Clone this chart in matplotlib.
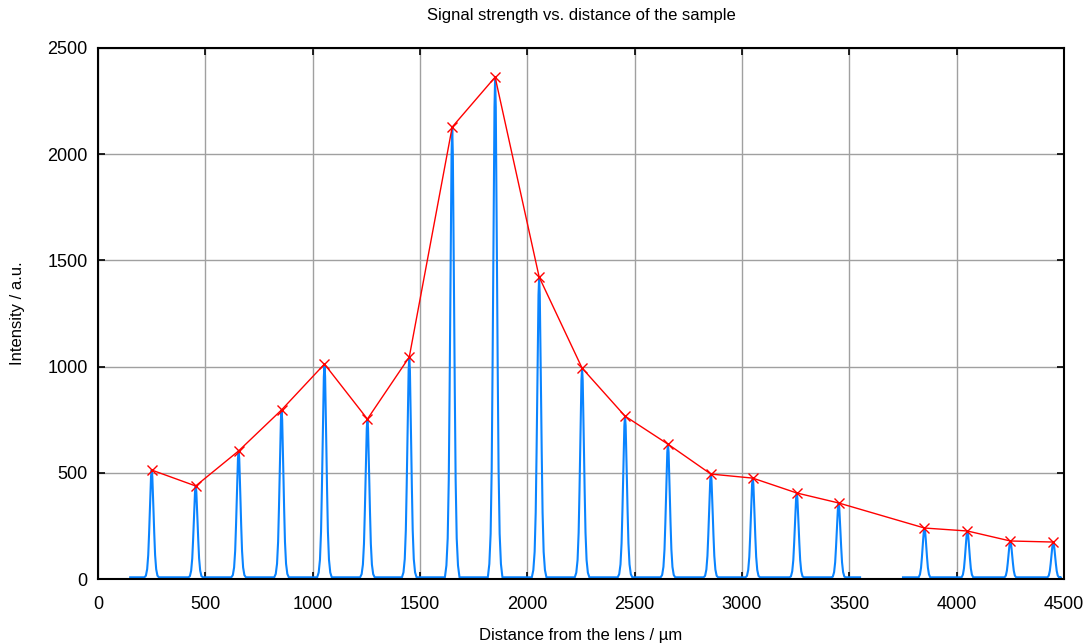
import matplotlib
matplotlib.use("Agg")
import matplotlib.pyplot as plt
import numpy as np

plt.rcParams['font.family'] = ['Liberation Sans', 'DejaVu Sans']

# Peak maxima (red markers)
peak_x = [250, 455, 655, 855, 1055, 1255, 1450, 1650, 1850, 2055, 2255,
          2455, 2655, 2855, 3050, 3255, 3450, 3850, 4050, 4250, 4450]
peak_y = [513, 438, 603, 796, 1012, 753, 1045, 2128, 2363, 1422, 993,
          767, 635, 494, 475, 405, 358, 240, 226, 179, 174]

seg_start = [150, 3750]
seg_end = [3550, 4480]
baseline = 8
profile_offset = [-34, -27, -21, -16, -12, -9, -6, -3, 0, 3, 6, 9, 12, 16, 21, 27, 34]
profile_rel = [0.0, 0.03, 0.09, 0.22, 0.42, 0.60, 0.78, 0.94, 1.0,
               0.94, 0.78, 0.60, 0.42, 0.22, 0.09, 0.03, 0.0]

title = "Signal strength vs. distance of the sample"
xlabel = "Distance from the lens / µm"
ylabel = "Intensity / a.u."

fig = plt.figure(figsize=(10.87, 6.44), dpi=100)
ax = fig.add_axes([98/1087, 65/644, 966/1087, 531/644])

for s, e in zip(seg_start, seg_end):
    xs = [s]
    ys = [baseline]
    for px, py in zip(peak_x, peak_y):
        if s < px < e:
            for o, r in zip(profile_offset, profile_rel):
                xs.append(px + o)
                ys.append(max(baseline, r * py))
    xs.append(e)
    ys.append(baseline)
    ax.plot(xs, ys, color='#0a84ff', lw=1.5, zorder=2)

ax.plot(peak_x, peak_y, color='#ff0000', lw=1.0, marker='x', ms=7, mew=1.0, zorder=3)

ax.set_xlim(0, 4500)
ax.set_ylim(0, 2500)
ax.set_xticks(np.arange(0, 4501, 500))
ax.set_yticks(np.arange(0, 2501, 500))
ax.grid(True, color='#a0a0a0', lw=1.0, zorder=0)
ax.set_axisbelow(True)
ax.tick_params(direction='in', length=5, width=1.2, top=True, right=True, labelsize=13)
ax.tick_params(axis='x', pad=12)
ax.tick_params(axis='y', pad=7.5)
for sp in ax.spines.values():
    sp.set_linewidth(1.5)
ax.set_title(title, fontsize=12, pad=20)
ax.set_xlabel(xlabel, fontsize=12, labelpad=11)
ax.set_ylabel(ylabel, fontsize=12, labelpad=16)

fig.savefig("out.png", dpi=100)
